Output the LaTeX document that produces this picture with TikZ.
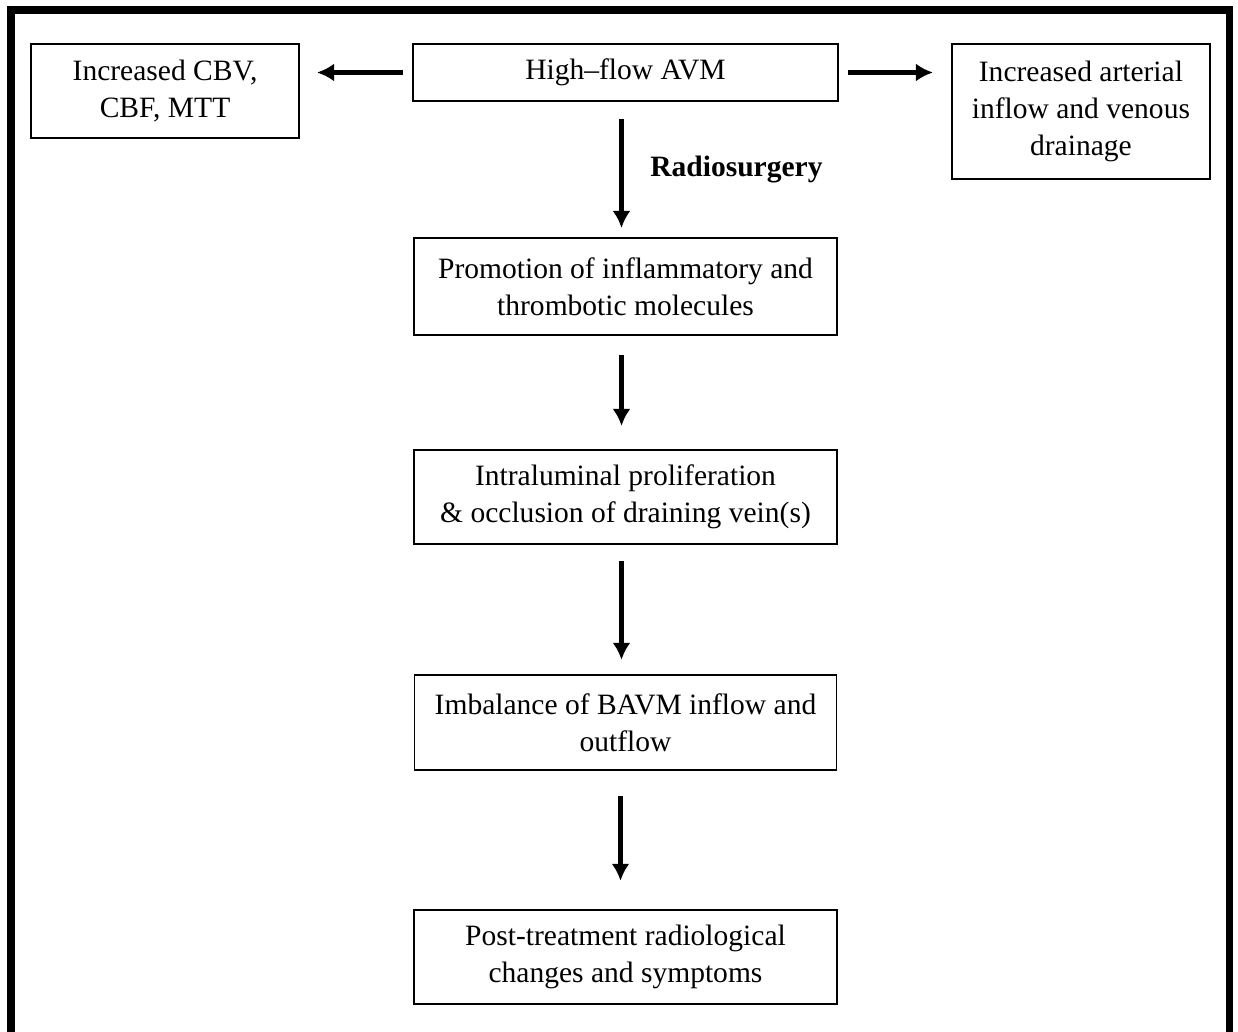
\documentclass[tikz,border=0pt]{standalone}
\usepackage{fontspec}
\setmainfont{Liberation Serif}
\usetikzlibrary{arrows.meta}
\usetikzlibrary{positioning}

\begin{document}
\begin{tikzpicture}[>={Latex[length=0.34cm,width=0.36cm]}]
        \tikzset{block/.style= {draw, rectangle, line width=1.1pt, align=center, inner sep=0pt, font=\fontsize{16.8}{21}\selectfont},
        arr/.style={->, line width=2.3pt},
        }
        \useasboundingbox (0,0) rectangle (24.76,-20.64);
        \draw[line width=4pt] (0.22,-0.2) rectangle (24.59,-20.74); %% outer frame
        \node [block, minimum width=8.5cm, minimum height=1.14cm] (avm) at (12.51,-1.45) {High–flow AVM};
        \node [block, minimum width=5.36cm, minimum height=1.88cm, left=2.24cm of avm.north west, anchor=north east] (cbv) {Increased CBV,\\ CBF, MTT};
        \node [block, minimum width=5.16cm, minimum height=2.7cm, right=2.24cm of avm.north east, anchor=north west] (inflow) {Increased arterial\\ inflow and venous\\ drainage};
        \node [block, minimum width=8.46cm, minimum height=1.94cm, below=2.70cm of avm] (promo) {Promotion of inflammatory and\\ thrombotic molecules};
        \node [block, minimum width=8.46cm, minimum height=1.88cm, below=2.26cm of promo] (prolif) {Intraluminal proliferation\\ \& occlusion of draining vein(s)};
        \node [block, minimum width=8.44cm, minimum height=1.9cm, below=2.58cm of prolif] (imbal) {Imbalance of BAVM inflow and\\ outflow};
        \node [block, minimum width=8.46cm, minimum height=1.88cm, below=2.76cm of imbal] (post) {Post-treatment radiological\\ changes and symptoms};

%% paths
        \draw[arr, shorten <=0.18cm, shorten >=0.34cm] (avm.west) -- (avm.west -| cbv.east);
        \draw[arr, shorten <=0.18cm, shorten >=0.36cm] (avm.east) -- (avm.east -| inflow.west);
        \draw[arr, shorten <=0.34cm, shorten >=0.18cm] ([xshift=-0.08cm]avm.south) -- ([xshift=-0.08cm]avm.south |- promo.north)
                node[midway, right=0.42cm, font=\fontsize{16.8}{21}\selectfont\bfseries] (rs) {Radiosurgery};
        \draw[arr, shorten <=0.38cm, shorten >=0.46cm] ([xshift=-0.08cm]promo.south) -- ([xshift=-0.08cm]promo.south |- prolif.north);
        \draw[arr, shorten <=0.32cm, shorten >=0.28cm] ([xshift=-0.08cm]prolif.south) -- ([xshift=-0.08cm]prolif.south |- imbal.north);
        \draw[arr, shorten <=0.5cm, shorten >=0.56cm] ([xshift=-0.1cm]imbal.south) -- ([xshift=-0.1cm]imbal.south |- post.north);
    \end{tikzpicture}
\end{document}
